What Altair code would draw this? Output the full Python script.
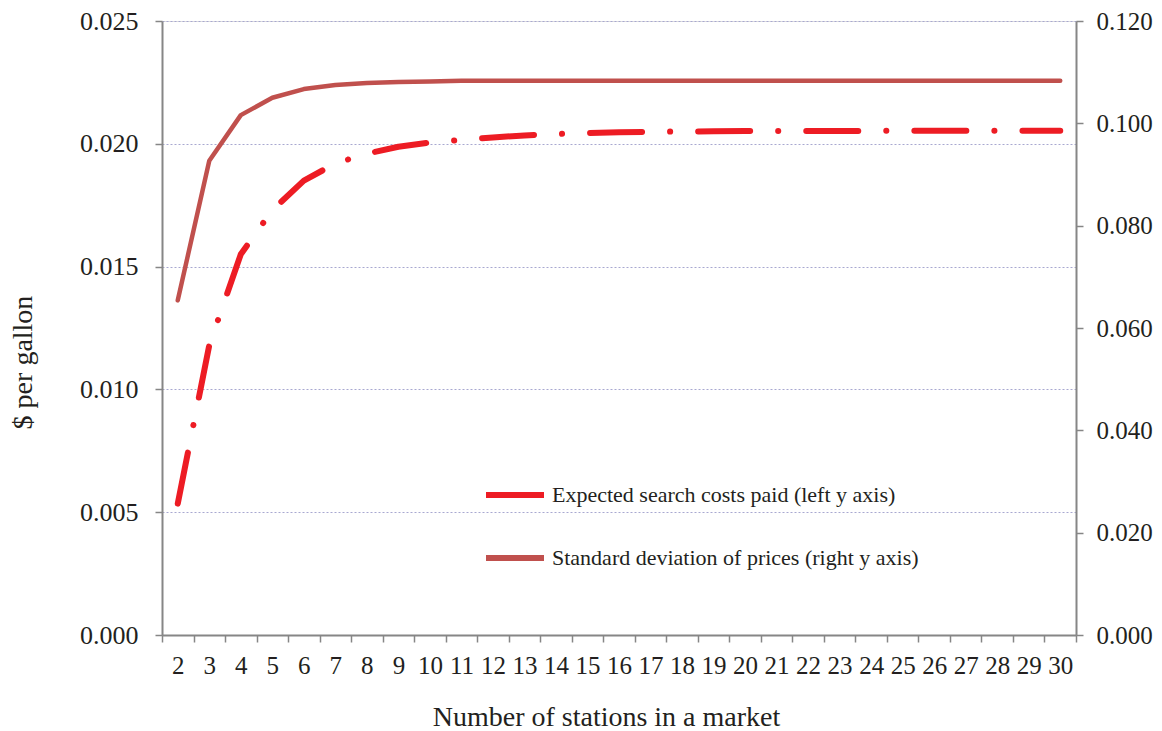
import altair as alt
import pandas as pd

stations = list(range(2, 31))
search_cost = [0.00535, 0.0118, 0.0155, 0.0173, 0.0185, 0.0192, 0.0196, 0.01988, 0.02005,
               0.02016, 0.02026, 0.02034, 0.0204, 0.02044, 0.02047, 0.02049, 0.0205, 0.02051,
               0.02052, 0.02052, 0.02052, 0.02052, 0.02053, 0.02053, 0.02053, 0.02053,
               0.02053, 0.02053, 0.02053]
price_sd = [0.0654, 0.0927, 0.1016, 0.1050, 0.1067, 0.1075, 0.1079, 0.1081, 0.1082,
            0.1083, 0.1083, 0.1083, 0.1083, 0.1083, 0.1083, 0.1083, 0.1083, 0.1083,
            0.1083, 0.1083, 0.1083, 0.1083, 0.1083, 0.1083, 0.1083, 0.1083, 0.1083,
            0.1083, 0.1083]
series_names = ["Expected search costs paid (left y axis)",
                "Standard deviation of prices (right y axis)"]
series_colors = ["#ED1C24", "#C0504D"]
left_ticks = [0.0, 0.005, 0.010, 0.015, 0.020, 0.025]
right_ticks = [0.0, 0.02, 0.04, 0.06, 0.08, 0.10, 0.12]

df_cost = pd.DataFrame({"n": stations, "value": search_cost, "series": series_names[0]})
df_sd = pd.DataFrame({"n": stations, "value": price_sd, "series": series_names[1]})

FONT = "Times New Roman, Liberation Serif, serif"
TXT = "#231F20"
AX = "#868686"

x_enc = alt.X(
    "n:O",
    scale=alt.Scale(type="band", paddingInner=0, paddingOuter=0),
    axis=alt.Axis(
        title="Number of stations in a market",
        tickBand="extent", labelAngle=0, labelFontSize=25, labelFont=FONT,
        labelColor=TXT, labelPadding=11, labelOverlap=False,
        titleFont=FONT, titleFontSize=28, titleFontWeight="normal", titleColor=TXT,
        titlePadding=25, titleX=444,
        domainColor=AX, domainWidth=2, tickColor=AX, tickWidth=1.5, tickSize=7,
        grid=False,
    ),
)

color_enc = alt.Color(
    "series:N",
    scale=alt.Scale(domain=series_names, range=series_colors),
    legend=alt.Legend(
        title=None, orient="none", legendX=321, legendY=442,
        symbolType="stroke", symbolSize=3364, symbolStrokeWidth=6,
        labelFont=FONT, labelFontSize=22, labelColor=TXT, labelOffset=5,
        rowPadding=19, padding=0, labelLimit=600,
    ),
)

cost_line = alt.Chart(df_cost).mark_line(
    strokeWidth=6, strokeCap="round", strokeJoin="round",
    strokeDash=[52, 28, 0.1, 28],
).encode(
    x=x_enc,
    y=alt.Y(
        "value:Q",
        scale=alt.Scale(domain=[0, 0.025], nice=False),
        axis=alt.Axis(
            title="$ per gallon", values=left_ticks, format=".3f",
            labelFont=FONT, labelFontSize=26, labelColor=TXT, labelPadding=17,
            titleFont=FONT, titleFontSize=28, titleFontWeight="normal", titleColor=TXT,
            titlePadding=42, titleY=341,
            domainColor=AX, domainWidth=2, tickColor=AX, tickWidth=1.5, tickSize=7,
            grid=True, gridColor="#A8A8D0", gridDash=[2, 2], gridWidth=1,
        ),
    ),
    color=color_enc,
)

sd_line = alt.Chart(df_sd).mark_line(
    strokeWidth=4.5, strokeCap="round", strokeJoin="round",
).encode(
    x=x_enc,
    y=alt.Y(
        "value:Q",
        scale=alt.Scale(domain=[0, 0.12], nice=False),
        axis=alt.Axis(
            orient="right", title=None, values=right_ticks, format=".3f",
            labelFont=FONT, labelFontSize=25, labelColor=TXT, labelPadding=13,
            domainColor=AX, domainWidth=2, tickColor=AX, tickWidth=1.5, tickSize=7,
            grid=False,
        ),
    ),
    color=color_enc,
)

chart = alt.layer(cost_line, sd_line).resolve_scale(y="independent").properties(
    width=914, height=614,
    autosize=alt.AutoSizeParams(type="none"),
    padding={"left": 154, "top": 13, "right": 78, "bottom": 95},
).configure_view(stroke=None).configure(background="white")

chart.save("out.html", embed_options={"renderer": "svg", "actions": False})
